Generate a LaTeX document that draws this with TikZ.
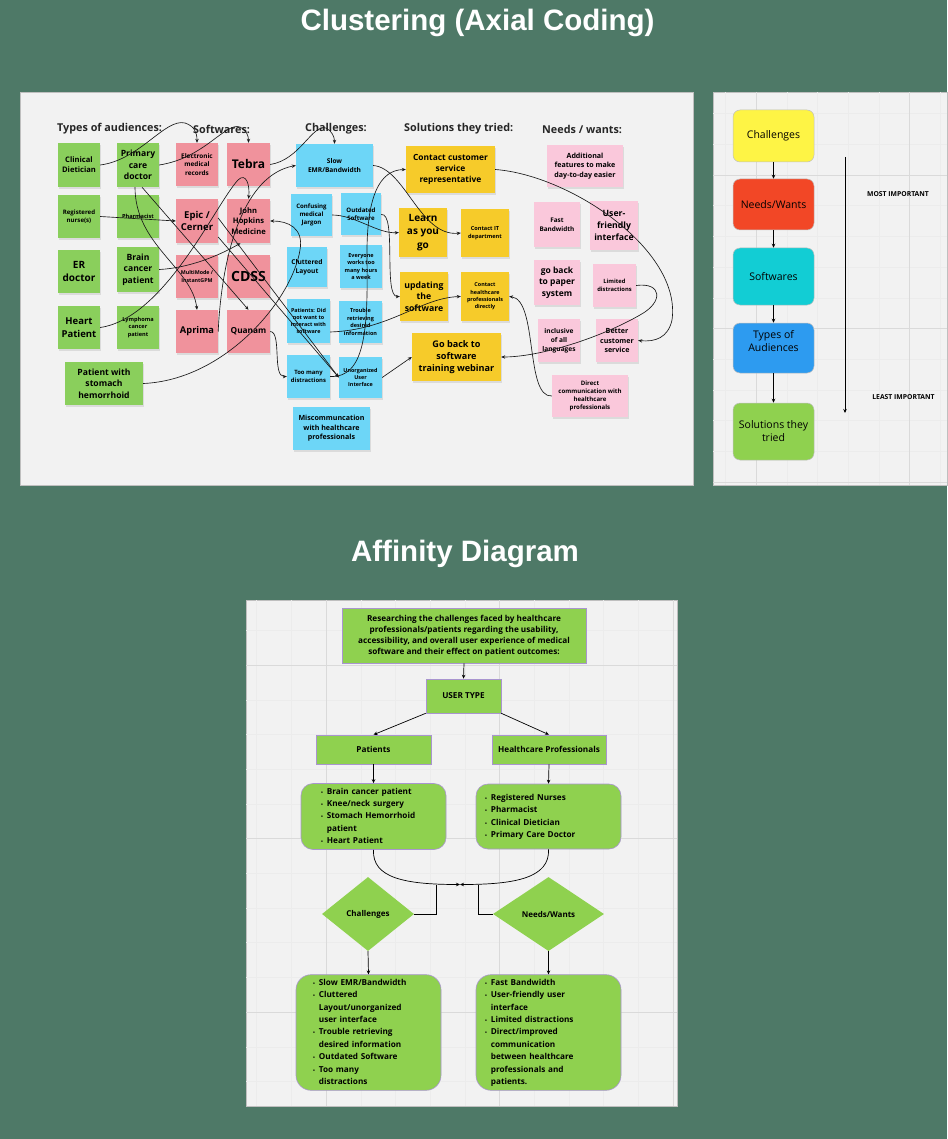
\documentclass[tikz,border=0pt]{standalone}
\usepackage{fontspec}
\setmainfont{Open Sans}
\newfontfamily\headfont{Liberation Sans}
\usetikzlibrary{arrows.meta,shapes.geometric,shadows}
\newcommand\fz[1]{\fontsize{#1}{\fpeval{round(1.35*#1,2)}}\selectfont\bfseries}
\newcommand\bul{{\fontsize{5}{6}\selectfont\textbullet}}

\definecolor{bggreen}{HTML}{4E7967}
\definecolor{board}{HTML}{F2F2F2}
\definecolor{gridmaj}{HTML}{DADADA}
\definecolor{gridmin}{HTML}{ECECEC}
\definecolor{notegreen}{HTML}{8ACF5C}
\definecolor{notered}{HTML}{F0929C}
\definecolor{noteblue}{HTML}{6DD6F7}
\definecolor{noteyellow}{HTML}{F6CB2A}
\definecolor{notepink}{HTML}{FAC8DB}
\definecolor{boxyellow}{HTML}{FEF445}
\definecolor{boxred}{HTML}{F24726}
\definecolor{boxcyan}{HTML}{12CDD4}
\definecolor{boxblue}{HTML}{2D9BF0}
\definecolor{boxgreen}{HTML}{8FD14F}
\definecolor{affgreen}{HTML}{8FD14F}
\definecolor{affedge}{HTML}{A995CF}

\tikzset{
  note/.style={rectangle, inner sep=1pt, align=center, text=black,
    minimum width=42, minimum height=43,
    drop shadow={shadow xshift=0.5pt, shadow yshift=-1.8pt, opacity=0.2}},
  gnote/.style={note, fill=notegreen},
  rnote/.style={note, fill=notered},
  bnote/.style={note, fill=noteblue},
  ynote/.style={note, fill=noteyellow},
  pnote/.style={note, fill=notepink},
  head/.style={anchor=west, inner sep=0pt, font=\fz{10.8}, text=black!85},
  link/.style={-{Stealth[length=4pt,width=3.4pt]}, line width=0.65pt, black!90},
  tbox/.style={rounded corners=7, minimum width=81, align=center, draw=black!25,
    line width=0.5pt, font=\fontsize{10.5}{13}\selectfont},
  rank/.style={font=\fontsize{6.8}{8}\selectfont\bfseries},
  arr/.style={-{Stealth[length=4pt,width=3.5pt]}, line width=0.7pt},
  abox/.style={rectangle, fill=affgreen, draw=affedge, line width=0.6pt,
    align=center, inner sep=1pt, font=\fz{8.2}, text=black},
  alist/.style={abox, rounded corners=12, align=left, inner ysep=2pt,
    font=\fontsize{8.2}{12.4}\selectfont\bfseries},
  adia/.style={diamond, fill=affgreen, inner sep=0pt, font=\fz{8}, text=black},
  aline/.style={line width=0.7pt},
  title/.style={anchor=base, text=white, font=\headfont\bfseries\fontsize{29.5}{34}\selectfont},
  board/.style={fill=board, draw=black!25, line width=0.5pt},
  gridmajor/.style={gridmaj, line width=0.6pt},
  gridminor/.style={gridmin, line width=0.4pt}
}

\begin{document}
\begin{tikzpicture}[x=1pt, y=-1pt]
	%%%%% START %%%%%
	\useasboundingbox (0,0) rectangle (947,1139);
	\fill[bggreen] (0,0) rectangle (947,1139);
	
	\node[title] (ctitle) at (477.5,31) {Clustering (Axial Coding)};
	\node[title] (atitle) at (465,561) {Affinity Diagram};
	
	%%%%% BOARDS %%%%%
	\draw[board] (20,92) rectangle (693,485);
	\draw[board] (713,92) rectangle (947,485);
	\draw[board] (246,600) rectangle (677,1106);
	
	\begin{scope}
		\clip (713,92) rectangle (947,485);
		\foreach \g in {-12,...,12} {
			\draw[gridminor] ({756+30.7*\g},92) -- ++(0,393);
			\draw[gridminor] (713,{175+30.7*\g}) -- ++(234,0);
		}
		\foreach \g in {-1,0,1,2} {
			\draw[gridmajor] ({756+153.5*\g},92) -- ++(0,393);
			\draw[gridmajor] (713,{175+153.5*\g}) -- ++(234,0);
		}
	\end{scope}
	
	\begin{scope}
		\clip (246,600) rectangle (677,1106);
		\foreach \g in {-12,...,18} {
			\draw[gridminor] ({326+34.7*\g},600) -- ++(0,506);
			\draw[gridminor] (246,{665+34.7*\g}) -- ++(431,0);
		}
		\foreach \g in {-1,0,1,2,3} {
			\draw[gridmajor] ({326+173.5*\g},600) -- ++(0,506);
			\draw[gridmajor] (246,{665+173.5*\g}) -- ++(431,0);
		}
	\end{scope}
	
	%%%%% CLUSTERING %%%%%
	\node[head] (hdaud) at (57,129) {Types of audiences:};
	\node[head] (hdsoft) at (193,129) {Softwares:};
	\node[head] (hdchal) at (305,129) {Challenges:};
	\node[head] (hdsol) at (404,129) {Solutions they tried:};
	\node[head] (hdneed) at (542,129) {Needs / wants:};
	
	% audiences
	\node[gnote, font=\fz{7.6}, minimum height=44] (dietician) at (79,165) {Clinical\\Dietician};
	\node[gnote, font=\fz{8.6}, minimum height=44] (primary) at (138,165) {Primary\\care\\doctor};
	\node[gnote, font=\fz{6.1}] (nurse) at (79,216.5) {Registered\\nurse(s)};
	\node[gnote, font=\fz{5.6}] (pharma) at (138,216.5) {Pharmacist};
	\node[gnote, font=\fz{10}] (erdoc) at (79,271.5) {ER\\doctor};
	\node[gnote, font=\fz{8.6}, minimum height=45] (brain) at (138,269.5) {Brain\\cancer\\patient};
	\node[gnote, font=\fz{9.5}] (heart) at (79,327.5) {Heart\\Patient};
	\node[gnote, font=\fz{5.6}] (lymph) at (138,327.5) {Lymphoma\\cancer\\patient};
	\node[gnote, font=\fz{8.6}, minimum width=78] (stomach) at (104,383.5) {Patient with\\stomach\\hemorrhoid};
	
	% softwares
	\node[rnote, font=\fz{6.4}] (emr) at (197,164.5) {Electronic\\medical\\records};
	\node[rnote, font=\fz{12}, minimum width=43] (tebra) at (248.5,164.5) {Tebra};
	\node[rnote, font=\fz{9.5}, minimum height=44] (epic) at (197,221) {Epic /\\Cerner};
	\node[rnote, font=\fz{7.6}, minimum width=43, minimum height=44] (hopkins) at (248.5,221) {John\\Hopkins\\Medicine};
	\node[rnote, font=\fz{5.3}] (multimode) at (197,276.5) {MultiMode /\\InstantGPM};
	\node[rnote, font=\fz{14}, minimum width=43] (cdss) at (248.5,276.5) {CDSS};
	\node[rnote, font=\fz{9.3}] (aprima) at (197,331.5) {Aprima};
	\node[rnote, font=\fz{8.3}, minimum width=43] (quanam) at (248.5,331.5) {Quanam};
	
	% challenges
	\node[bnote, font=\fz{6.6}, minimum width=77] (slow) at (334.5,165.5) {Slow\\EMR/Bandwidth};
	\node[bnote, font=\fz{6.1}, minimum width=41, minimum height=42] (jargon) at (311.5,215) {Confusing\\medical\\Jargon};
	\node[bnote, font=\fz{6.1}, minimum width=40, minimum height=42] (outdated) at (361,214.5) {Outdated\\Software};
	\node[bnote, font=\fz{6.6}, minimum width=40, minimum height=40] (cluttered) at (307,267) {Cluttered\\Layout};
	\node[bnote, font=\fz{5.5}] (everyone) at (361,266.5) {Everyone\\works too\\many hours\\a week};
	\node[bnote, font=\fz{5.4}, minimum width=43, minimum height=44] (didnot) at (308.5,321) {Patients: Did\\not want to\\interact with\\software};
	\node[bnote, font=\fz{5.5}, minimum width=43, minimum height=42] (trouble) at (360.5,322) {Trouble\\retrieving\\desired\\information};
	\node[bnote, font=\fz{5.9}, minimum width=43] (toomany) at (308.5,376.5) {Too many\\distractions};
	\node[bnote, font=\fz{5.4}, minimum width=43, minimum height=41] (unorg) at (360.5,377.5) {Unorganized\\User\\Interface};
	\node[bnote, font=\fz{7.1}, minimum width=77] (miscomm) at (331.5,428.5) {Miscommuncation\\with healthcare\\professionals};
	
	% solutions
	\node[ynote, font=\fz{8.4}, minimum width=89, minimum height=47] (contactcs) at (450.5,169.5) {Contact customer\\service\\representative};
	\node[ynote, font=\fz{10}, minimum width=48, minimum height=49] (learn) at (423,232.5) {Learn\\as you\\go};
	\node[ynote, font=\fz{5.6}, minimum width=48, minimum height=48] (contactit) at (485,233) {Contact IT\\department};
	\node[ynote, font=\fz{8.7}, minimum width=48, minimum height=49] (updating) at (424,296.5) {updating\\the\\software};
	\node[ynote, font=\fz{5.4}, minimum width=48, minimum height=49] (contacthp) at (485,296.5) {Contact\\healthcare\\professionals\\directly};
	\node[ynote, font=\fz{9.1}, minimum width=89, minimum height=48] (webinar) at (456.5,357) {Go back to\\software\\training webinar};
	
	% needs / wants
	\node[pnote, font=\fz{7.1}, minimum width=76, minimum height=42] (additional) at (585,166) {Additional\\features to make\\day-to-day easier};
	\node[pnote, font=\fz{6.4}, minimum width=46, minimum height=45] (fastbw) at (557,224.5) {Fast\\Bandwidth};
	\node[pnote, font=\fz{8.7}, minimum width=48, minimum height=49] (userfr) at (614,225.5) {User-\\friendly\\interface};
	\node[pnote, font=\fz{8.5}, minimum width=46, minimum height=45] (paper) at (557,282.5) {go back\\to paper\\system};
	\node[pnote, font=\fz{5.8}, minimum width=43] (limited) at (614.5,285.5) {Limited\\distractions};
	\node[pnote, font=\fz{6.6}] (inclusive) at (559,340.5) {inclusive\\of all\\languages};
	\node[pnote, font=\fz{7.1}] (better) at (617,340.5) {Better\\customer\\service};
	\node[pnote, font=\fz{6.1}, minimum width=76, minimum height=42] (direct) at (590,396) {Direct\\communication with\\healthcare\\professionals};
	
	% links
	\draw[link] (dietician.east) .. controls (140,160) and (165,118) .. (185,123) .. controls (194,126) and (197,132) .. (emr.north);
	\draw[link] (primary.east) .. controls (205,158) and (225,122) .. (240,127) .. controls (246,130) and (248.5,135) .. (tebra.north);
	\draw[link] (tebra.east) .. controls (300,160) and (312,124) .. (326,128) .. controls (332,131) and (334.5,137) .. (slow.north);
	\draw[link] (aprima.east) .. controls (222,250) and (245,175) .. (slow.west);
	\draw[link] (heart.east) .. controls (165,318) and (215,205) .. (238,180) .. controls (246,172) and (250,185) .. (hopkins.north);
	\draw[link] (nurse.east) -- (epic.west);
	\draw[link] ([xshift=-3pt]primary.south) .. controls (135,245) and (192,268) .. (aprima.north);
	\draw[link] ([xshift=4pt]primary.south) -- (quanam.north);
	\draw[link] (brain.east) .. controls (190,268) and (220,255) .. (hopkins.250);
	\draw[link] ([yshift=3pt]epic.east) -- (unorg.west);
	\draw[link] ([yshift=-16pt]epic.east) -- (unorg.west);
	\draw[link] (stomach.east) .. controls (225,380) and (292,300) .. (300,250) .. controls (304,228) and (288,221) .. (hopkins.east);
	\draw[link] (quanam.east) .. controls (282,332) and (272,377) .. (toomany.west);
	\draw[link] (slow.east) .. controls (405,168) and (420,237) .. (contactit.west);
	\draw[link] (jargon.east) .. controls (355,215) and (378,234) .. (learn.west);
	\draw[link] (outdated.east) .. controls (397,212) and (383,297) .. (updating.west);
	\draw[link] ([yshift=-11pt]didnot.east) .. controls (390,330) and (420,298) .. (contacthp.west);
	\draw[link] (unorg.east) -- (webinar.west);
	\draw[link] (toomany.east) .. controls (365,378) and (368,330) .. (367,260) .. controls (366,195) and (380,170) .. (contactcs.west);
	\draw[link] (contactcs.east) .. controls (570,175) and (682,250) .. (672,320) .. controls (668,338) and (655,342) .. (better.east);
	\draw[link] (limited.east) .. controls (662,282) and (664,302) .. (640,315) .. controls (600,338) and (540,357) .. (webinar.east);
	\draw[link] (direct.west) .. controls (525,398) and (538,300) .. (contacthp.east);
	
	%%%%% PRIORITY %%%%%
	\node[tbox, fill=boxyellow, minimum height=52] (rchal) at (773.5,136) {Challenges};
	\node[tbox, fill=boxred, minimum height=51] (rneed) at (773.5,204.5) {Needs/Wants};
	\node[tbox, fill=boxcyan, minimum height=57] (rsoft) at (773.5,276.5) {Softwares};
	\node[tbox, fill=boxblue, minimum height=50] (rtype) at (773.5,348) {};
	\node[align=center, font=\fontsize{10.5}{13}\selectfont] (rtypetxt) at (773.5,341.5) {Types of\\Audiences};
	\node[tbox, fill=boxgreen, minimum height=57] (rsolu) at (773.5,431.5) {Solutions they\\tried};
	\draw[arr] (rchal.south) -- (rneed.north);
	\draw[arr] (rneed.south) -- (rsoft.north);
	\draw[arr] (rsoft.south) -- (rtype.north);
	\draw[arr] (rtype.south) -- (rsolu.north);
	
	\coordinate (imptop) at (845,157);
	\coordinate (impbot) at (845,413);
	\draw[arr] (imptop) -- (impbot);
	\node[rank] (most) at (898,194) {MOST IMPORTANT};
	\node[rank] (least) at (903.5,397) {LEAST IMPORTANT};
	
	%%%%% AFFINITY %%%%%
	\node[abox, minimum width=244, minimum height=55] (topic) at (464,635.5) {Researching the challenges faced by healthcare\\professionals/patients regarding the usability,\\accessibility, and overall user experience of medical\\software and their effect on patient outcomes:};
	\node[abox, minimum width=75, minimum height=34] (usertype) at (463.5,696) {USER TYPE};
	\node[abox, minimum width=115, minimum height=29] (patients) at (373.5,749.5) {Patients};
	\node[abox, minimum width=114, minimum height=29] (hprof) at (549,749.5) {Healthcare Professionals};
	
	\node[alist, text width=105, inner xsep=20, minimum height=65] (plist) at (373.5,816.5) {%
		\begin{tabular}{@{}l@{\hspace{4pt}}l@{}}
			\bul & Brain cancer patient\\
			\bul & Knee/neck surgery\\
			\bul & Stomach Hemorrhoid\\
			& patient\\
			\bul & Heart Patient
	\end{tabular}};
	\node[alist, text width=127, inner xsep=9, minimum height=65] (hlist) at (548.5,816.5) {%
		\begin{tabular}{@{}l@{\hspace{4pt}}l@{}}
			\bul & Registered Nurses\\
			\bul & Pharmacist\\
			\bul & Clinical Dietician\\
			\bul & Primary Care Doctor
	\end{tabular}};
	
	\node[adia, minimum width=92, minimum height=74] (chdia) at (368,914) {Challenges};
	\node[adia, minimum width=111, minimum height=74] (nwdia) at (548.5,914) {Needs/Wants};
	
	\node[alist, text width=111, inner xsep=17, minimum height=115, rounded corners=15] (clist) at (368.5,1032.5) {%
		\begin{tabular}{@{}l@{\hspace{4pt}}l@{}}
			\bul & Slow EMR/Bandwidth\\
			\bul & Cluttered\\
			& Layout/unorganized\\
			& user interface\\
			\bul & Trouble retrieving\\
			& desired information\\
			\bul & Outdated Software\\
			\bul & Too many\\
			& distractions
	\end{tabular}};
	\node[alist, text width=127, inner xsep=9, minimum height=115, rounded corners=15] (nlist) at (548.5,1032.5) {%
		\begin{tabular}{@{}l@{\hspace{4pt}}l@{}}
			\bul & Fast Bandwidth\\
			\bul & User-friendly user\\
			& interface\\
			\bul & Limited distractions\\
			\bul & Direct/improved\\
			& communication\\
			& between healthcare\\
			& professionals and\\
			& patients.
	\end{tabular}};
	
	\coordinate (meet) at (460,884.5);
	\coordinate (meetl) at (436,884.5);
	\coordinate (meetr) at (478,884.5);
	
	\draw[arr] (topic.south) -- (usertype.north);
	\draw[arr] (usertype.south west) -- (patients.north);
	\draw[arr] (usertype.south east) -- (hprof.north);
	\draw[arr] (patients.south) -- (plist.north);
	\draw[arr] (hprof.south) -- (hlist.north);
	\draw[arr] (plist.south) .. controls (372,878) and (405,884.5) .. (meet);
	\draw[arr] (hlist.south) .. controls (550,878) and (515,884.5) .. (meet);
	\draw[aline] (chdia.east) -| (meetl);
	\draw[aline] (nwdia.west) -| (meetr);
	\draw[arr] (chdia.south) -- (clist.north);
	\draw[arr] (nwdia.south) -- (nlist.north);
	%%%%% END %%%%%
\end{tikzpicture}
\end{document}
